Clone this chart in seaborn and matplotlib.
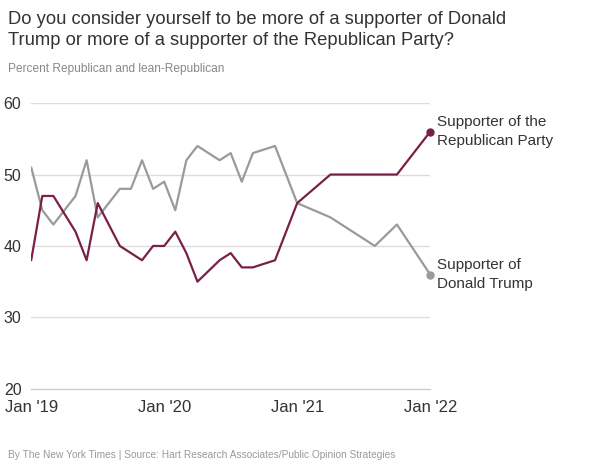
import pandas as pd
import seaborn as sns
import matplotlib.pyplot as plt

# months since Jan 2019
trump_months = [0, 1, 2, 4, 5, 6, 8, 9, 10, 11, 12, 13, 14, 15, 17, 18, 19, 20, 22, 24, 27, 31, 33, 36]
trump_vals = [51, 45, 43, 47, 52, 44, 48, 48, 52, 48, 49, 45, 52, 54, 52, 53, 49, 53, 54, 46, 44, 40, 43, 36]

party_months = [0, 1, 2, 4, 5, 6, 8, 10, 11, 12, 13, 14, 15, 17, 18, 19, 20, 22, 24, 27, 33, 36]
party_vals = [38, 47, 47, 42, 38, 46, 40, 38, 40, 40, 42, 39, 35, 38, 39, 37, 37, 38, 46, 50, 50, 56]

tick_pos = [0, 12, 24, 36]
tick_labels = ["Jan '19", "Jan '20", "Jan '21", "Jan '22"]

RED = '#7a2048'
GRAY = '#9a9a9a'

sns.set_style('white')
plt.rcParams['font.family'] = ['Liberation Sans', 'DejaVu Sans']

trump_df = pd.DataFrame({'month': trump_months, 'pct': trump_vals})
party_df = pd.DataFrame({'month': party_months, 'pct': party_vals})

fig = plt.figure(figsize=(6, 4.73), dpi=100)
ax = fig.add_axes([0.052, 0.178, 0.665, 0.604])

sns.lineplot(data=trump_df, x='month', y='pct', color=GRAY, lw=1.6, ax=ax)
sns.lineplot(data=party_df, x='month', y='pct', color=RED, lw=1.6, ax=ax)
ax.plot(trump_months[-1], trump_vals[-1], 'o', color=GRAY, ms=5, clip_on=False)
ax.plot(party_months[-1], party_vals[-1], 'o', color=RED, ms=5, clip_on=False)

ax.set_xlim(0, 36)
ax.set_ylim(20, 60)
for v in [30, 40, 50, 60]:
    ax.axhline(v, color='#dddddd', lw=1, zorder=0)

for s in ['top', 'right', 'left']:
    ax.spines[s].set_visible(False)
ax.spines['bottom'].set_color('#cccccc')
ax.spines['bottom'].set_linewidth(1)

ax.set_yticks([20, 30, 40, 50, 60])
ax.set_yticklabels(['20', '30', '40', '50', '60'])
ax.tick_params(axis='y', length=0, pad=7, labelsize=11.5, labelcolor='#333333')
ax.set_xticks(tick_pos)
ax.set_xticklabels(tick_labels)
ax.tick_params(axis='x', length=5, width=1, color='#888888', direction='out',
               labelsize=12, labelcolor='#333333', pad=3)
ax.set_xlabel('')
ax.set_ylabel('')

ax.annotate('Supporter of the\nRepublican Party', (party_months[-1], party_vals[-1]),
            xytext=(5, 0), textcoords='offset points', va='center', ha='left',
            fontsize=11, color='#333333', linespacing=1.45, annotation_clip=False)
ax.annotate('Supporter of\nDonald Trump', (trump_months[-1], trump_vals[-1]),
            xytext=(5, 0), textcoords='offset points', va='center', ha='left',
            fontsize=11, color='#333333', linespacing=1.45, annotation_clip=False)

fig.text(0.013, 0.977, 'Do you consider yourself to be more of a supporter of Donald\nTrump or more of a supporter of the Republican Party?',
         fontsize=13.2, color='#333333', va='top', ha='left', linespacing=1.32)
fig.text(0.013, 0.866, 'Percent Republican and lean-Republican',
         fontsize=8.6, color='#888888', va='top', ha='left')
fig.text(0.013, 0.028, 'By The New York Times | Source: Hart Research Associates/Public Opinion Strategies',
         fontsize=7.3, color='#999999', va='bottom', ha='left')

fig.savefig('out.png', dpi=100)
